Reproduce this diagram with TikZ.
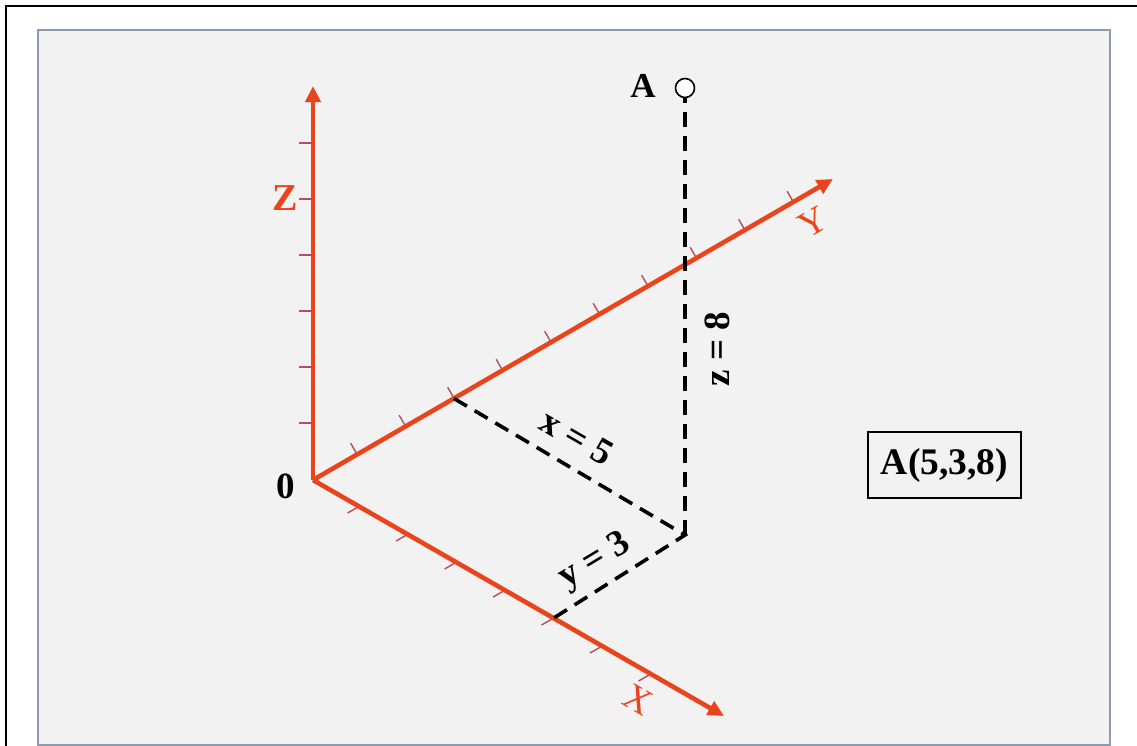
\documentclass[tikz,border=0pt]{standalone}
\usepackage{fontspec}
\setmainfont{Liberation Serif}
\usetikzlibrary{arrows.meta,calc}
\definecolor{axisred}{RGB}{233,68,28}
\definecolor{tickred}{RGB}{185,75,95}
\definecolor{panelbg}{RGB}{242,242,242}
\definecolor{panelline}{RGB}{140,155,175}
\begin{document}
\begin{tikzpicture}[x=1bp,y=-1bp,
  axis/.style={draw=axisred,line width=4.6bp,-{Triangle[length=16bp,width=15bp]}},
  tickmark/.style={draw=tickred,line width=1.4bp},
  guide/.style={draw=black,line width=3.6bp,dash pattern=on 15bp off 9bp},
  lbl/.style={font=\fontsize{37bp}{40bp}\selectfont\bfseries,inner sep=0pt},
  axlbl/.style={text=axisred,font=\fontsize{37bp}{40bp}\selectfont,inner sep=0pt},
  pointmark/.style={circle,draw=black,line width=1.6bp,fill=white,minimum size=19bp,inner sep=0pt},
  resultbox/.style={draw=black,line width=1.5bp,minimum width=153bp,minimum height=66bp,inner sep=0pt,font=\fontsize{37.5bp}{40bp}\selectfont\bfseries}
]
\useasboundingbox (0,0) rectangle (1137,746);
\fill[white] (0,0) rectangle (1137,746);
\draw[line width=2.7bp] (6,800) -- (6,6) -- (1200,6);
\draw[fill=panelbg,draw=panelline,line width=1.5bp] (38,30) rectangle (1110,745);

\coordinate (O) at (313,480);
\coordinate (Zt) at (313,86);
\coordinate (Yt) at (833,179);
\coordinate (Xt) at (724,716);

% ticks
\foreach \k in {0,...,5}
  \draw[tickmark] ($(O)+(0,{-57-56*\k})$) -- ++(-14,0);
\foreach \k in {0,...,9}
  \draw[tickmark] ($(O)+({(51+56*\k)*0.866},{-(51+56*\k)*0.5})$) -- ++(-6.5,-11.3);
\foreach \k in {0,...,6}
  \draw[tickmark] ($(O)+({(53+56*\k)*0.866},{(53+56*\k)*0.5})$) -- ++(-11.3,6.5);

% axes
\draw[axis] (O) -- (Zt);
\draw[axis] (O) -- (Yt);
\draw[axis] (O) -- (Xt);

% point A and projections
\coordinate (P1) at (454,398.5);
\coordinate (P2) at (553,618.5);
\coordinate (F) at (685,535);
\node[pointmark] (A) at (685,88) {};
\draw[guide] (P1) -- (F) -- (P2);
\draw[guide] (F) -- (A.south);

% labels
\node[lbl,font=\fontsize{35bp}{38bp}\selectfont\bfseries] (lblA) at (643,86) {A};
\node[lbl] (zero) at (286,486) {0};
\node[axlbl,font=\fontsize{38bp}{40bp}\selectfont\bfseries] (Zl) at (285,198) {Z};
\node[axlbl,rotate=30] (Yl) at (813,222) {Y};
\node[axlbl,rotate=-30] (Xl) at (638,700) {X};
\node[lbl,rotate=-30] (xl) at (577,437) {x = 5};
\node[lbl,rotate=31] (yl) at (595,562) {y = 3};
\node[lbl,rotate=90] (zl) at (717,349) {z = 8};
\node[resultbox] (box) at (944.5,465) {A(5,3,8)};
\end{tikzpicture}
\end{document}
